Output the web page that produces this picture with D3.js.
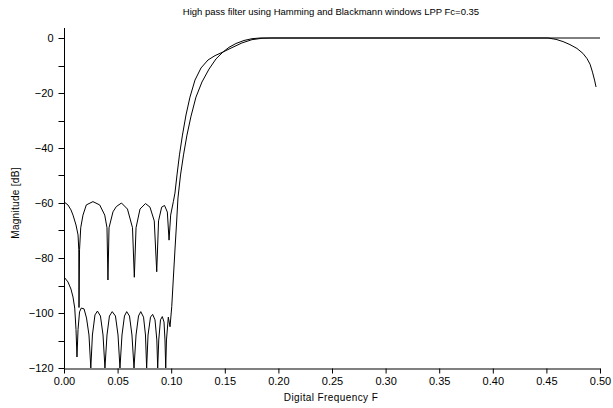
<!DOCTYPE html>
<html><head><meta charset="utf-8">
<script src="https://cdnjs.cloudflare.com/ajax/libs/d3/7.8.5/d3.min.js"></script>
<style>
html,body{margin:0;padding:0;background:#fff;}
svg{display:block;font-family:"Liberation Sans",Arial,sans-serif;}
</style></head><body>
<svg id="c" width="613" height="408"></svg>
<script>
// ---- data ----
const title = "High pass filter using Hamming and Blackmann windows LPP Fc=0.35";
const xLabel = "Digital Frequency F";
const yLabel = "Magnitude [dB]";
const xTicks = [0,0.05,0.10,0.15,0.20,0.25,0.30,0.35,0.40,0.45,0.50];
const yTicks = [0,-20,-40,-60,-80,-100,-120];
const yMinorTicks = [-10,-30,-50,-70,-90,-110];

const hammingF = [0,0.0037,0.0065,0.0084,0.0112,0.0131,0.0138,0.0140,0.0145,0.0156,0.0177,0.0208,0.0270,0.0333,0.0380,0.0401,0.0410,0.0420,0.0457,0.0488,0.0536,0.0592,0.0639,0.0656,0.0672,0.0709,0.0760,0.0802,0.0842,0.0865,0.0882,0.0911,0.0938,0.0964,0.0980,0.0995,0.1020,0.1035,0.1054,0.1077,0.1105,0.1138,0.1175,0.1222,0.1278,0.1343,0.1409,0.1483,0.1567,0.1660,0.1754,0.1847,0.1940,0.4515,0.4590,0.4655,0.4720,0.4785,0.4841,0.4879,0.4907,0.4930,0.4949,0.4963];
const hammingDb = [-59.6,-60.7,-62.5,-64.4,-68,-71.6,-77,-98,-77,-69,-64.4,-60.7,-59.5,-60.7,-64.4,-69,-88,-69,-63.2,-61.3,-60,-62.2,-69,-87,-69,-62.2,-60.2,-61.5,-66.5,-85,-66.5,-61.5,-60.9,-63.3,-73.5,-64.4,-59.5,-56.4,-49.8,-42.5,-35.3,-28,-21.5,-15.3,-10.9,-8,-6.4,-5.1,-3.5,-1.8,-0.6,-0.1,0,0,-0.5,-1.3,-2.4,-3.8,-5.6,-7.5,-9.5,-12.4,-15.3,-17.8];

const blackmanF = [0,0.0037,0.0065,0.0084,0.0100,0.0112,0.0121,0.0131,0.0145,0.0161,0.0187,0.0210,0.0233,0.0250,0.0265,0.0289,0.0312,0.0340,0.0364,0.0382,0.0401,0.0424,0.0450,0.0480,0.0504,0.0522,0.0541,0.0564,0.0585,0.0611,0.0634,0.0653,0.0672,0.0695,0.0716,0.0742,0.0760,0.0771,0.0784,0.0807,0.0827,0.0849,0.0866,0.0874,0.0884,0.0900,0.0917,0.0933,0.0942,0.0949,0.0956,0.0973,0.0989,0.1005,0.1020,0.1035,0.1049,0.1063,0.1087,0.1115,0.1147,0.1185,0.1231,0.1287,0.1353,0.1418,0.1483,0.1539,0.1604,0.1679,0.1754,0.1828,0.5];
const blackmanDb = [-86.9,-88.7,-91.3,-94.2,-98.2,-106,-116,-106,-99.6,-98.2,-98.5,-101.8,-108,-120,-108,-100.7,-99.3,-101.1,-108,-120,-108,-101.1,-99.5,-101.1,-108,-120,-108,-101.1,-99.5,-101.1,-108,-120,-108,-101.1,-99.5,-101.5,-108,-120,-108,-101.5,-100.5,-102.5,-109.8,-120,-109.8,-102.5,-101.3,-103.3,-109.8,-120,-109.8,-101.5,-105,-97.7,-87.3,-77.1,-68,-58.2,-49.8,-42.5,-35.3,-28.4,-21.5,-16,-11.3,-7.6,-5.1,-3.4,-2.0,-0.9,-0.25,0,0];

// ---- layout ----
const svg = d3.select("#c");
const x = d3.scaleLinear().domain([0,0.5]).range([64,600]);
const y = d3.scaleLinear().domain([-120,0]).range([368,38]);

svg.append("text").attr("x",331).attr("y",15).attr("text-anchor","middle")
  .attr("font-size",9.5).attr("fill","#000").text(title);

svg.append("clipPath").attr("id","clip").append("rect")
  .attr("x",64).attr("y",20).attr("width",540).attr("height",349);

const line = d3.line().x(d=>x(d[0])).y(d=>y(d[1]));
const series = [d3.zip(hammingF,hammingDb), d3.zip(blackmanF,blackmanDb)];
svg.append("g").attr("clip-path","url(#clip)").selectAll("path").data(series).join("path")
  .attr("d",line).attr("fill","none").attr("stroke","#000").attr("stroke-width",1);

// x axis
const xa = svg.append("g").attr("transform","translate(0,368.5)")
  .call(d3.axisBottom(x).tickValues(xTicks).tickFormat(d3.format(".2f")).tickSize(5).tickSizeOuter(0));
xa.select(".domain").attr("stroke","#000");
xa.selectAll("text").attr("font-size",11).attr("fill","#000").attr("dy","0.85em").attr("y",7);

// y axis
const ya = svg.append("g").attr("transform","translate(64.5,0)")
  .call(d3.axisLeft(y).tickValues(yTicks).tickFormat(d3.format("d")).tickSize(6).tickSizeOuter(0));
ya.select(".domain").attr("d","M0,28V368.5");
ya.selectAll("text").attr("font-size",11).attr("fill","#000").attr("x",-11);
svg.append("g").attr("transform","translate(64.5,0)").selectAll("line").data(yMinorTicks).join("line")
  .attr("x1",-6).attr("x2",0).attr("y1",d=>Math.round(y(d))+0.5).attr("y2",d=>Math.round(y(d))+0.5).attr("stroke","#000");

svg.append("text").attr("x",331).attr("y",401).attr("text-anchor","middle")
  .attr("font-size",10).attr("letter-spacing",0.4).attr("fill","#000").text(xLabel);
svg.append("text").attr("transform","translate(19,203) rotate(-90)").attr("text-anchor","middle")
  .attr("font-size",10).attr("letter-spacing",0.3).attr("fill","#000").text(yLabel);
</script></body></html>
